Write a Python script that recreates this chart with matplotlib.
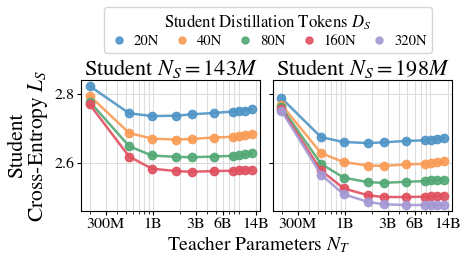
import numpy as np
import matplotlib
matplotlib.use("Agg")
import matplotlib.pyplot as plt
from matplotlib.ticker import FixedLocator, NullFormatter, LogLocator

plt.rcParams['font.family'] = ['STIXGeneral', 'DejaVu Serif']
plt.rcParams['mathtext.fontset'] = 'stix'

# teacher sizes (parameters)
teachers = [198e6, 546e6, 975e6, 1.82e9, 2.72e9, 4.82e9, 7.75e9, 9.06e9, 10.7e9, 12.6e9]

token_labels = ['20N', '40N', '80N', '160N', '320N']
colors = ['#4f94c6', '#f99b55', '#52a874', '#e0505f', '#a498d4']

# student 143M
loss_143 = {
    '20N': [2.823, 2.744, 2.736, 2.737, 2.741, 2.745, 2.749, 2.751, 2.752, 2.755],
    '40N': [2.795, 2.687, 2.671, 2.668, 2.670, 2.674, 2.676, 2.679, 2.681, 2.683],
    '80N': [2.778, 2.649, 2.622, 2.618, 2.617, 2.619, 2.621, 2.623, 2.625, 2.628],
    '160N': [2.770, 2.619, 2.584, 2.577, 2.575, 2.577, 2.578, 2.580, 2.581, 2.581],
}

# student 198M
loss_198 = {
    '20N': [2.788, 2.675, 2.661, 2.658, 2.660, 2.664, 2.666, 2.668, 2.670, 2.673],
    '40N': [2.769, 2.629, 2.603, 2.593, 2.592, 2.596, 2.598, 2.600, 2.602, 2.605],
    '80N': [2.762, 2.598, 2.558, 2.545, 2.543, 2.546, 2.548, 2.550, 2.551, 2.552],
    '160N': [2.756, 2.579, 2.527, 2.507, 2.502, 2.502, 2.503, 2.504, 2.505, 2.506],
    '320N': [2.752, 2.567, 2.510, 2.488, 2.481, 2.479, 2.479, 2.479, 2.479, 2.479],
}

panels = [('143', loss_143), ('198', loss_198)]

xticks = [3e8, 1e9, 3e9, 6e9, 1.4e10]
xticklabels = ['300M', '1B', '3B', '6B', '14B']

fig = plt.figure(figsize=(4.68, 2.64), dpi=100)
ax1 = fig.add_axes([0.174, 0.201, 0.381, 0.496])
ax2 = fig.add_axes([0.584, 0.201, 0.381, 0.496], sharey=ax1)

for ax, (size, data) in zip([ax1, ax2], panels):
    for lab, col in zip(token_labels, colors):
        if lab not in data:
            continue
        ax.plot(teachers, data[lab], color=col, marker='o', markersize=6,
                linewidth=1.8, alpha=0.9, label=lab)
    ax.set_xscale('log')
    ax.xaxis.set_major_locator(FixedLocator(xticks))
    ax.set_xticklabels(xticklabels)
    ax.xaxis.set_minor_locator(LogLocator(base=10, subs=np.arange(2, 10)))
    ax.xaxis.set_minor_formatter(NullFormatter())
    ax.grid(which='both', axis='x', color='#dddddd', linewidth=0.8)
    ax.grid(which='major', axis='y', color='#dddddd', linewidth=0.8)
    ax.set_axisbelow(True)
    ax.set_title('Student $N_S = %sM$' % size, fontsize=16, pad=2)
    ax.tick_params(axis='both', labelsize=11.5, length=3, pad=2)
    ax.tick_params(axis='x', which='minor', length=2)

ax1.set_yticks([2.6, 2.8])
ax1.set_yticklabels(['2.6', '2.8'])
plt.setp(ax2.get_yticklabels(), visible=False)

ax1.set_ylabel('Student\nCross-Entropy $L_S$', fontsize=15.5, labelpad=3, linespacing=0.95)
fig.text(0.552, 0.035, 'Teacher Parameters $N_T$', ha='center', va='bottom', fontsize=14)

handles = [plt.Line2D([], [], color=c, marker='o', linestyle='', markersize=5, alpha=0.9)
           for c in colors]
fig.legend(handles, token_labels, loc='upper center', bbox_to_anchor=(0.572, 1.0),
           ncol=5, title='Student Distillation Tokens $D_S$', fontsize=10.5,
           title_fontsize=12, frameon=True, handletextpad=0.3, columnspacing=0.9,
           handlelength=1.4, borderpad=0.35, labelspacing=0.2, edgecolor='#cccccc')

fig.savefig('out.png', dpi=100)
